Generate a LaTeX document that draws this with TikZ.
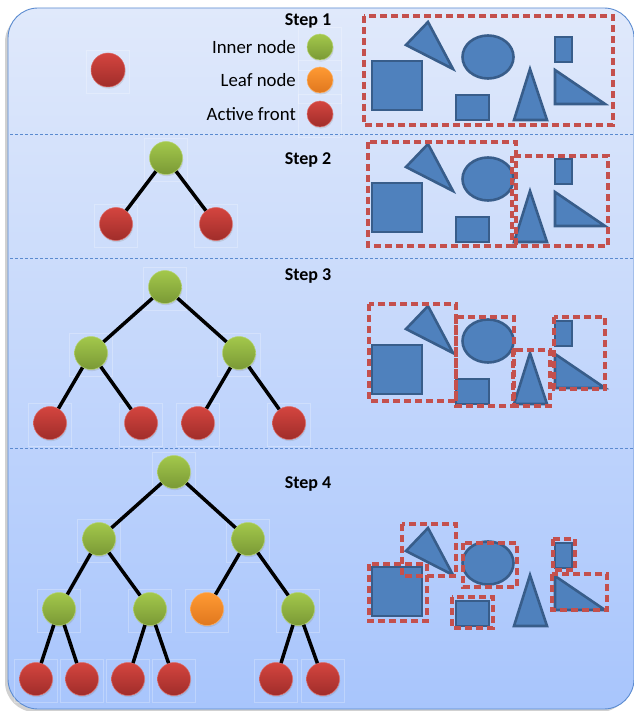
\documentclass[tikz,border=0pt]{standalone}
\usepackage{fontspec}
\setmainfont{Carlito}
\usetikzlibrary{shadows}
\definecolor{bgtop}{HTML}{E0E9FB}
\definecolor{bgbot}{HTML}{A8C5FC}
\definecolor{bordc}{HTML}{5B8BD0}
\definecolor{sepc}{HTML}{5B8BD0}
\definecolor{shpfill}{HTML}{4F81BD}
\definecolor{shpline}{HTML}{385D8A}
\definecolor{dashred}{HTML}{C4504D}
\definecolor{gtop}{HTML}{A3C84B}
\definecolor{gbot}{HTML}{7A9936}
\definecolor{otop}{HTML}{FF9A33}
\definecolor{obot}{HTML}{E0771E}
\definecolor{rtop}{HTML}{D4453F}
\definecolor{rbot}{HTML}{A02D2A}
\tikzset{
  ballbase/.style={circle, inner sep=0pt, minimum size=33pt, line width=0.5pt,
    drop shadow={opacity=0.22, shadow xshift=0.8pt, shadow yshift=-1.6pt}},
  innernode/.style={ballbase, top color=gtop, bottom color=gbot, draw=gtop!80!white},
  leafnode/.style={ballbase, top color=otop, bottom color=obot, draw=otop!80!white},
  activenode/.style={ballbase, top color=rtop, bottom color=rbot, draw=rtop!80!white},
  legendsize/.style={minimum size=26pt},
  ghost/.style={draw=white, opacity=0.25, line width=0.5pt},
  edge/.style={line width=3.5pt, black},
  shp/.style={fill=shpfill, draw=shpline, line width=2.6pt, line join=miter},
  dbox/.style={draw=dashred, line width=3.2pt, dash pattern=on 7pt off 4pt},
  sepline/.style={draw=sepc, line width=0.8pt, dash pattern=on 3pt off 2pt},
  steplabel/.style={font=\fontsize{18}{21}\selectfont\bfseries, inner sep=0pt},
  legtext/.style={font=\fontsize{18.8}{21}\selectfont, inner sep=0pt, anchor=east},
}
\newcommand\tnode[3]{%
  \draw[ghost, shift={(#2)}] (-21.5,-19.5) rectangle (21.5,23.5);
  \node[#1] (#3) at (#2) {};}
\newcommand\shapeset[1]{%
  \begin{scope}[shift={(0,#1)}]
    \draw[shp] (372,61) rectangle (422,110);
    \draw[shp] (406,45) -- (428,22) -- (453,69) -- cycle;
    \draw[shp] (488,57) ellipse [x radius=25.5, y radius=21.5];
    \draw[shp] (456,95) rectangle (489,120);
    \draw[shp] (530,69) -- (547,120) -- (514,120) -- cycle;
    \draw[shp] (555,37) rectangle (572,62);
    \draw[shp] (555,70) -- (605,104) -- (555,104) -- cycle;
  \end{scope}}
\begin{document}
\begin{tikzpicture}[x=1pt,y=-1pt]
\useasboundingbox (0,0) rectangle (633,711);
% panel
\fill[black, opacity=0.18, rounded corners=30pt] (5,12) rectangle (630,712);
\shade[top color=bgtop, bottom color=bgbot, rounded corners=30pt] (8,8) rectangle (634,709);
\draw[bordc, line width=0.9pt, rounded corners=30pt] (8,8) rectangle (634,709);
% separators
\draw[sepline] (10,134) -- (633,134);
\draw[sepline] (10,258) -- (633,258);
\draw[sepline] (10,448) -- (633,448);
% step labels
\node[steplabel] (lab1) at (308,21) {Step 1};
\node[steplabel] (lab2) at (308,160) {Step 2};
\node[steplabel] (lab3) at (308,276) {Step 3};
\node[steplabel] (lab4) at (308,484) {Step 4};
% legend
\node[legtext] (tinner) at (296,47) {Inner node};
\node[legtext] (tleaf) at (296,80) {Leaf node};
\node[legtext] (tactive) at (296,114) {Active front};
\tnode{innernode,legendsize}{320,47}{linner}
\tnode{leafnode,legendsize}{320,80}{lleaf}
\tnode{activenode,legendsize}{320,114}{lactive}
% step 1 tree
\tnode{activenode,minimum size=34pt}{108,70}{a1}
% step 2 tree
\tnode{innernode}{166,158}{b0}
\tnode{activenode}{116,224}{b1}
\tnode{activenode}{216,224}{b2}
\draw[edge] (b0) -- (b1);
\draw[edge] (b0) -- (b2);
% step 3 tree
\tnode{innernode}{165,287}{c0}
\tnode{innernode}{91,353}{c1}
\tnode{innernode}{239,353}{c2}
\tnode{activenode}{50,423}{c3}
\tnode{activenode}{141,423}{c4}
\tnode{activenode}{198,423}{c5}
\tnode{activenode}{289,423}{c6}
\draw[edge] (c0) -- (c1);
\draw[edge] (c0) -- (c2);
\draw[edge] (c1) -- (c3);
\draw[edge] (c1) -- (c4);
\draw[edge] (c2) -- (c5);
\draw[edge] (c2) -- (c6);
% step 4 tree
\tnode{innernode}{174,472}{d0}
\tnode{innernode}{99,539}{d1}
\tnode{innernode}{248,539}{d2}
\tnode{innernode}{59,609}{d3}
\tnode{innernode}{150,609}{d4}
\tnode{leafnode}{207,609}{d5}
\tnode{innernode}{298,609}{d6}
\tnode{activenode}{36,679}{d7}
\tnode{activenode}{82,679}{d8}
\tnode{activenode}{128,679}{d9}
\tnode{activenode}{174,679}{d10}
\tnode{activenode}{276,679}{d11}
\tnode{activenode}{323,679}{d12}
\draw[edge] (d0) -- (d1);
\draw[edge] (d0) -- (d2);
\draw[edge] (d1) -- (d3);
\draw[edge] (d1) -- (d4);
\draw[edge] (d2) -- (d5);
\draw[edge] (d2) -- (d6);
\draw[edge] (d3) -- (d7);
\draw[edge] (d3) -- (d8);
\draw[edge] (d4) -- (d9);
\draw[edge] (d4) -- (d10);
\draw[edge] (d6) -- (d11);
\draw[edge] (d6) -- (d12);
% shapes
\shapeset{0}
\shapeset{122}
\shapeset{284}
\shapeset{506}
% dashed boxes
\draw[dbox] (364,16) rectangle (613,125);
\draw[dbox] (368,142) rectangle (516,246);
\draw[dbox] (512,156) rectangle (608,246);
\draw[dbox] (369,304) rectangle (456,401);
\draw[dbox] (456,317) rectangle (514,406);
\draw[dbox] (513,350) rectangle (550,406);
\draw[dbox] (554,317) rectangle (605,389);
\draw[dbox] (402,524) rectangle (456,576);
\draw[dbox] (369,564) rectangle (427,621);
\draw[dbox] (463,543) rectangle (517,587);
\draw[dbox] (452,597) rectangle (493,628);
\draw[dbox] (553,539) rectangle (575,570);
\draw[dbox] (552,574) rectangle (607,610);
\end{tikzpicture}
\end{document}
